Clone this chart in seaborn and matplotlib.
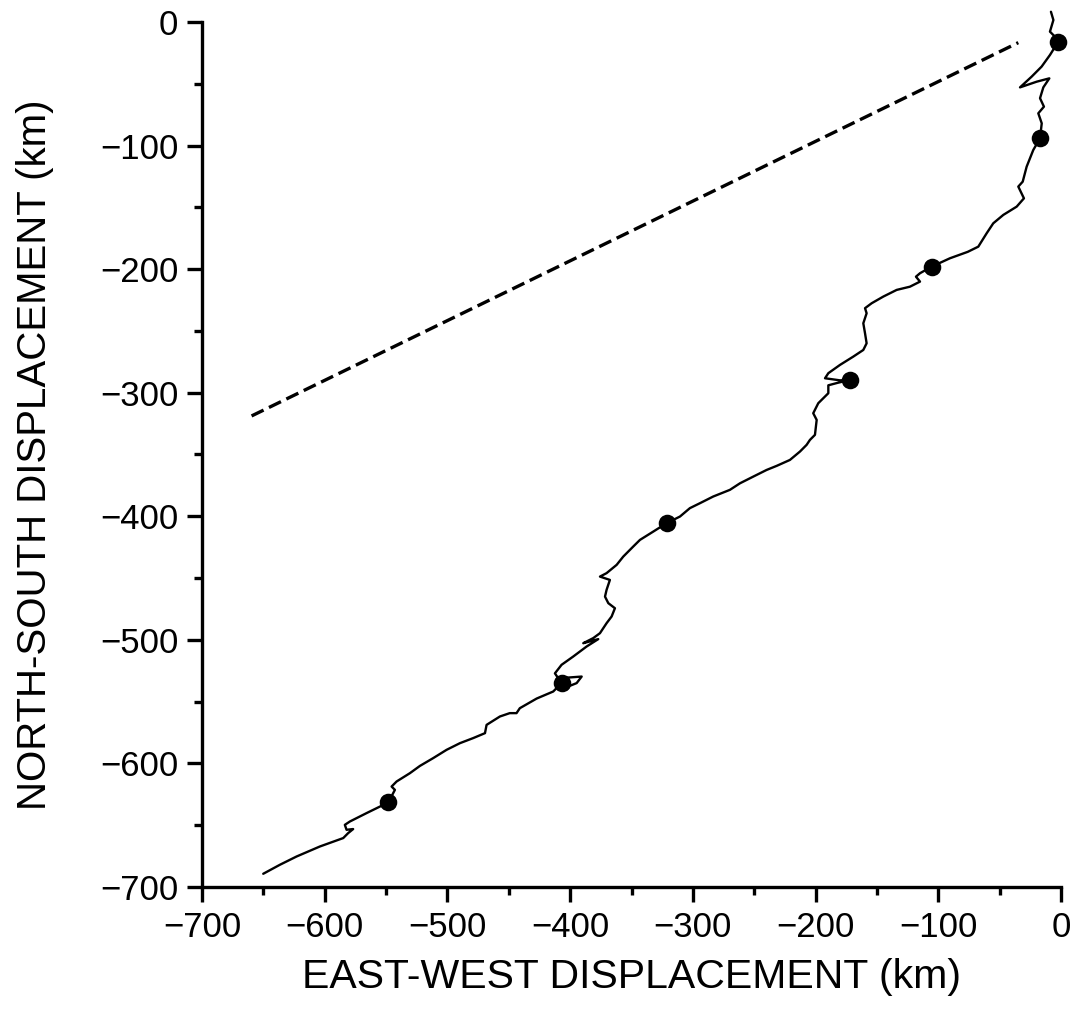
import numpy as np
import pandas as pd
import matplotlib
matplotlib.use("Agg")
import matplotlib.pyplot as plt
import seaborn as sns
from matplotlib.ticker import MultipleLocator

# ---- data (km) ----
track_x = [-8.2, -6.2, -9.0, -4.9, -2.2, -9.0, -15.8, -23.9, -33.4, -19.8, -9.5, -14.4,
           -17.1, -13.9, -18.5, -15.7, -17.1, -22.6, -28.0, -31.2, -34.8, -30.2, -36.1,
           -47.0, -55.2, -60.6, -67.4, -76.0, -90.5, -105.4, -114.9, -118.2, -114.9,
           -123.1, -133.9, -144.8, -154.3, -159.7, -158.4, -161.1, -159.7, -158.4,
           -161.1, -169.3, -180.1, -189.6, -192.3, -180.0, -172.0, -182.0, -189.6,
           -189.6, -197.8, -201.9, -199.1, -200.5, -204.6, -207.3, -212.7, -220.9,
           -231.7, -239.9, -250.8, -261.6, -269.8, -283.4, -294.2, -302.4, -310.5,
           -321.4, -332.3, -343.1, -348.6, -356.7, -362.1, -370.3, -375.7, -367.6,
           -370.3, -371.6, -368.9, -363.5, -366.2, -370.3, -375.7, -381.2, -389.3,
           -377.1, -386.6, -397.5, -407.0, -412.4, -409.7, -390.6, -394.7, -400.2,
           -407.0, -413.8, -427.3, -441.0, -443.7, -449.2, -457.2, -468.1, -469.4,
           -479.0, -489.8, -500.7, -511.6, -522.4, -530.6, -541.4, -545.5, -542.8,
           -548.2, -565.9, -579.5, -583.6, -582.2, -576.8, -580.9, -584.9, -603.9,
           -622.9, -636.5, -650.1]
track_y = [8.3, 1.6, -7.8, -11.9, -15.9, -26.7, -36.1, -44.2, -52.9, -48.3, -45.6, -52.9,
           -61.7, -68.5, -73.9, -82.0, -94.1, -103.6, -117.1, -129.2, -133.2, -142.7,
           -149.4, -156.1, -162.9, -171.0, -181.8, -186.0, -191.2, -198.0, -203.3,
           -206.1, -210.1, -214.2, -216.8, -222.2, -227.6, -231.6, -235.7, -243.8,
           -251.9, -260.0, -265.4, -270.8, -277.5, -284.2, -288.3, -290.0, -289.6,
           -292.0, -294.0, -300.4, -308.5, -316.6, -322.0, -334.1, -338.2, -342.2,
           -347.6, -354.4, -359.2, -362.5, -367.9, -373.3, -378.6, -384.0, -389.4,
           -393.4, -400.2, -405.6, -412.4, -419.1, -424.5, -432.6, -439.3, -446.0,
           -448.8, -451.5, -459.5, -465.0, -470.3, -474.4, -481.1, -486.5, -494.6,
           -498.6, -502.7, -499.4, -505.4, -513.5, -520.2, -527.1, -531.1, -529.7,
           -535.0, -537.2, -535.0, -541.8, -547.5, -555.3, -559.3, -559.3, -562.0,
           -568.8, -575.5, -579.5, -583.6, -589.0, -595.7, -602.0, -607.9, -614.6,
           -618.7, -621.4, -631.6, -640.2, -647.0, -649.7, -653.7, -653.1, -656.4,
           -660.4, -667.2, -675.3, -682.0, -689.3]

dot_x = [-2.2, -17.1, -105.4, -172.0, -321.4, -407.0, -548.2]
dot_y = [-15.9, -94.1, -198.0, -289.6, -405.6, -535.0, -631.6]

dash_x = [-659.6, -34.8]
dash_y = [-318.8, -16.7]

xticks = [-700, -600, -500, -400, -300, -200, -100, 0]
yticks = [-700, -600, -500, -400, -300, -200, -100, 0]

# ---- plot ----
sns.set_theme(style="ticks")
plt.rcParams['font.family'] = ['Liberation Sans', 'DejaVu Sans']

fig = plt.figure(figsize=(10.74, 10.13), dpi=100)
ax = fig.add_axes([202/1074, 1 - 887/1013, 859/1074, 865/1013])

track = pd.DataFrame({"x": track_x, "y": track_y})
sns.lineplot(data=track, x="x", y="y", sort=False, estimator=None, ax=ax,
             color="black", linewidth=1.7, clip_on=False)
sns.lineplot(x=dash_x, y=dash_y, sort=False, estimator=None, ax=ax,
             color="black", linewidth=2.4, dashes=False, linestyle=(0, (4.0, 1.8)))
sns.scatterplot(x=dot_x, y=dot_y, ax=ax, color="black", s=160, edgecolor="black",
                linewidth=0, zorder=5, clip_on=False)

ax.set_xlim(-700, 0)
ax.set_ylim(-700, 0)
ax.set_xticks(xticks)
ax.set_yticks(yticks)
ax.set_xticklabels([f"{v}".replace("-", "\u2212") for v in xticks])
ax.set_yticklabels([f"{v}".replace("-", "\u2212") for v in yticks])
ax.xaxis.set_minor_locator(MultipleLocator(50))
ax.yaxis.set_minor_locator(MultipleLocator(50))

sns.despine(ax=ax)
for s in ["left", "bottom"]:
    ax.spines[s].set_linewidth(2.4)
    ax.spines[s].set_color("black")

ax.tick_params(axis="both", which="major", direction="out", length=11, width=2.4,
               color="black", labelsize=25, labelcolor="black")
ax.tick_params(axis="x", which="major", pad=6)
ax.tick_params(axis="y", which="major", pad=6)
ax.tick_params(axis="both", which="minor", direction="out", length=6, width=2.4,
               color="black")

ax.set_xlabel("EAST-WEST DISPLACEMENT (km)", fontsize=29.5, color="black")
ax.set_ylabel("NORTH-SOUTH DISPLACEMENT (km)", fontsize=29, color="black")
ax.xaxis.set_label_coords(0.5, (887 - 958) / 865)
ax.yaxis.set_label_coords((54 - 202) / 859, 0.5)

ax.set_facecolor("white")
fig.patch.set_facecolor("white")
fig.savefig("out.png", dpi=100)
